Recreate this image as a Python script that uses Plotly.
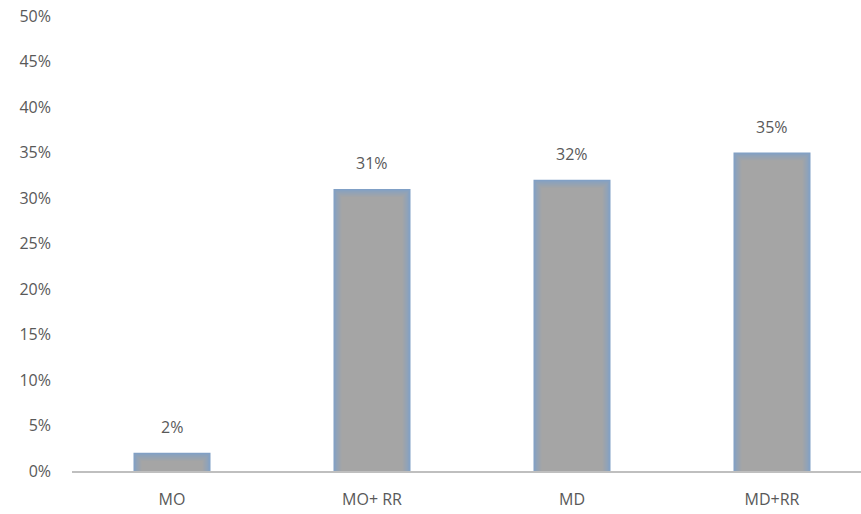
import plotly.graph_objects as go

categories = ["MO", "MO+ RR", "MD", "MD+RR"]
values = [0.02, 0.31, 0.32, 0.35]
labels = ["2%", "31%", "32%", "35%"]
y_ticks = [0, 0.05, 0.10, 0.15, 0.20, 0.25, 0.30, 0.35, 0.40, 0.45, 0.50]
y_tick_labels = ["0%", "5%", "10%", "15%", "20%", "25%", "30%", "35%", "40%", "45%", "50%"]

font_family = "Open Sans, Noto Sans, sans-serif"
text_color = "#595959"

plot_w, plot_h = 789, 455
y_max = 0.5
x_unit_px = 200
px_y = y_max / plot_h
px_x = 1 / x_unit_px
bar_w = 0.385

edge_rgb = (128, 160, 198)
core_rgb = (165, 165, 165)
n_layers = 9


def mix(t):
    return "rgb(%d,%d,%d)" % tuple(round(e + (c - e) * t) for e, c in zip(edge_rgb, core_rgb))


fig = go.Figure()
xs = list(range(len(categories)))
for i in range(n_layers):
    inset = i
    t = (i / (n_layers - 1)) ** 0.8
    ys = [max(v - inset * px_y, 0) for v in values]
    fig.add_trace(go.Bar(
        x=xs, y=ys,
        width=bar_w - 2 * inset * px_x,
        marker=dict(color=mix(t), line=dict(width=0)),
        hoverinfo="skip",
    ))

for i, (v, t) in enumerate(zip(values, labels)):
    fig.add_annotation(x=i, y=v, text=t, showarrow=False, yshift=26,
                       font=dict(size=16, color=text_color, family=font_family))

fig.update_layout(
    width=861, height=514,
    barmode="overlay",
    margin=dict(l=72, r=0, t=16, b=43),
    paper_bgcolor="white", plot_bgcolor="white",
    showlegend=False,
    font=dict(family=font_family, size=16, color=text_color),
)
fig.update_xaxes(
    range=[-0.5, -0.5 + plot_w / x_unit_px],
    tickvals=xs, ticktext=categories,
    showgrid=False, zeroline=False,
    showline=True, linecolor="#BFBFBF", linewidth=2,
    ticks="", ticklabelstandoff=13,
    tickfont=dict(size=16, color=text_color),
)
fig.update_yaxes(
    range=[0, y_max],
    tickvals=y_ticks, ticktext=y_tick_labels,
    showgrid=False, zeroline=False, showline=False,
    ticks="", ticklabelstandoff=20,
    tickfont=dict(size=16, color=text_color),
)

fig.write_html("out.html")
